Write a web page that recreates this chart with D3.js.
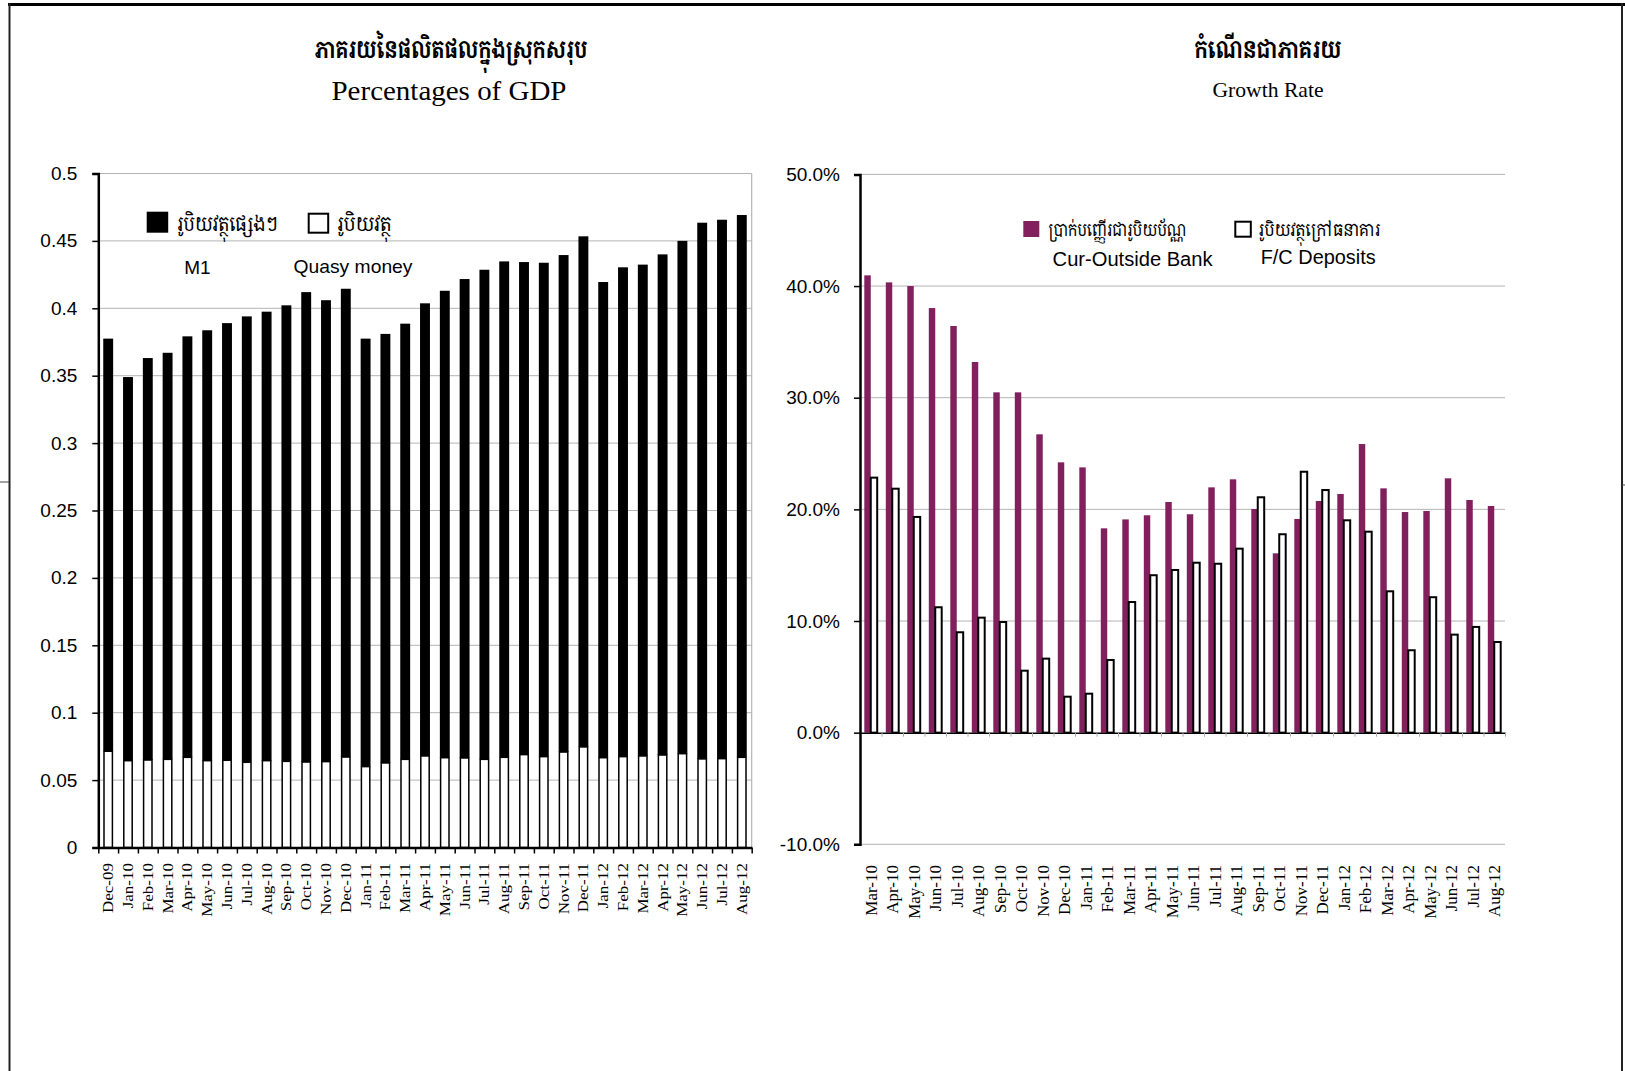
<!DOCTYPE html>
<html><head><meta charset="utf-8">
<script src="https://cdn.jsdelivr.net/npm/d3@7"></script>
<style>body{margin:0;background:#fff}svg{display:block}</style>
</head><body>
<svg id="c" width="1625" height="1071"></svg>
<script>
// ---------- DATA ----------
const leftCategories = ["Dec-09","Jan-10","Feb-10","Mar-10","Apr-10","May-10","Jun-10","Jul-10","Aug-10","Sep-10","Oct-10","Nov-10","Dec-10",
  "Jan-11","Feb-11","Mar-11","Apr-11","May-11","Jun-11","Jul-11","Aug-11","Sep-11","Oct-11","Nov-11","Dec-11",
  "Jan-12","Feb-12","Mar-12","Apr-12","May-12","Jun-12","Jul-12","Aug-12"];
// white (bottom) segment: money
const moneyM1 = [0.0714,0.0644,0.0649,0.0654,0.0669,0.0644,0.0647,0.0632,0.0644,0.0639,0.0634,0.0637,0.0671,
  0.0600,0.0627,0.0654,0.0679,0.0666,0.0664,0.0654,0.0669,0.0689,0.0674,0.0708,0.0746,
  0.0666,0.0674,0.0679,0.0686,0.0696,0.0657,0.0659,0.0669];
// black (top) segment: other money
const quasiMoney = [0.3061,0.2846,0.2982,0.3016,0.3123,0.3193,0.3243,0.3308,0.3331,0.3383,0.3486,0.3423,0.3474,
  0.3175,0.3183,0.3232,0.3358,0.3464,0.3553,0.3632,0.3679,0.3654,0.3664,0.3687,0.3788,
  0.3529,0.3630,0.3645,0.3714,0.3804,0.3978,0.3998,0.4023];
const leftTickValues = [0,0.05,0.1,0.15,0.2,0.25,0.3,0.35,0.4,0.45,0.5];
const leftTickLabels = ["0","0.05","0.1","0.15","0.2","0.25","0.3","0.35","0.4","0.45","0.5"];

const rightCategories = ["Mar-10","Apr-10","May-10","Jun-10","Jul-10","Aug-10","Sep-10","Oct-10","Nov-10","Dec-10",
  "Jan-11","Feb-11","Mar-11","Apr-11","May-11","Jun-11","Jul-11","Aug-11","Sep-11","Oct-11","Nov-11","Dec-11",
  "Jan-12","Feb-12","Mar-12","Apr-12","May-12","Jun-12","Jul-12","Aug-12"];
const curOutsideBank = [0.4096,0.4033,0.4000,0.3803,0.3642,0.3320,0.3048,0.3048,0.2672,0.2421,
  0.2376,0.1830,0.1910,0.1947,0.2066,0.1956,0.2197,0.2269,0.2003,0.1606,0.1914,0.2075,
  0.2138,0.2585,0.2188,0.1976,0.1985,0.2278,0.2084,0.2030];
const fcDeposits = [0.2284,0.2185,0.1932,0.1123,0.0899,0.1030,0.0991,0.0555,0.0663,0.0322,
  0.0349,0.0651,0.1170,0.1410,0.1457,0.1522,0.1513,0.1648,0.2108,0.1777,0.2337,0.2173,
  0.1902,0.1800,0.1266,0.0738,0.1213,0.0878,0.0947,0.0812];
const rightTickValues = [-0.1,0,0.1,0.2,0.3,0.4,0.5];
const rightTickLabels = ["-10.0%","0.0%","10.0%","20.0%","30.0%","40.0%","50.0%"];

const leftTitleKh = "ភាគរយនៃផលិតផលក្នុងស្រុកសរុប";
const leftTitleEn = "Percentages of GDP";
const rightTitleKh = "កំណើនជាភាគរយ";
const rightTitleEn = "Growth Rate";
const leftLegendKh = ["រូបិយវត្ថុផ្សេងៗ","រូបិយវត្ថុ"];
const leftLegendEn = ["M1","Quasy money"];
const rightLegendKh = ["ប្រាក់បញ្ញើរជារូបិយប័ណ្ណ","រូបិយវត្ថុក្រៅធនាគារ"];
const rightLegendEn = ["Cur-Outside Bank","F/C Deposits"];

// ---------- STYLE ----------
const SANS = '"Liberation Sans", Arial, sans-serif';
const SERIF = '"Liberation Serif", "Times New Roman", serif';
const KH = '"Khmer OS Muol Light","Khmer OS","Noto Serif Khmer","Noto Sans Khmer","Khmer OS System",serif';
const MAGENTA = "#82205E";
const GRID = "#b4b4b4";

const svg = d3.select("#c");

function text(x, y, s, o) {
  const t = svg.append("text").attr("x", x).attr("y", y).text(s)
    .attr("font-family", o.family).attr("font-size", o.size)
    .attr("text-anchor", o.anchor || "start").attr("fill", "#000");
  if (o.weight) t.attr("font-weight", o.weight);
  if (o.len) t.attr("textLength", o.len).attr("lengthAdjust", "spacingAndGlyphs");
  return t;
}

// ---------- FRAME ----------
svg.append("line").attr("x1", 8).attr("x2", 1625).attr("y1", 4.5).attr("y2", 4.5).attr("stroke", "#000").attr("stroke-width", 3);
svg.append("line").attr("x1", 9.5).attr("x2", 9.5).attr("y1", 3).attr("y2", 1071).attr("stroke", "#222").attr("stroke-width", 2);
svg.append("line").attr("x1", 1622).attr("x2", 1622).attr("y1", 3).attr("y2", 1071).attr("stroke", "#222").attr("stroke-width", 2);
svg.append("line").attr("x1", 0).attr("x2", 9).attr("y1", 482).attr("y2", 482).attr("stroke", "#444").attr("stroke-width", 1);
svg.append("line").attr("x1", 1622).attr("x2", 1625).attr("y1", 485).attr("y2", 485).attr("stroke", "#444").attr("stroke-width", 1);

// ---------- LEFT CHART ----------
const L = {x0: 98.3, x1: 751.7, yTop: 173.5, yBot: 847.5};
const lx = d3.scaleBand().domain(leftCategories).range([L.x0, L.x1]).paddingInner(0.5).paddingOuter(0.25);
const ly = d3.scaleLinear().domain([0, 0.5]).range([L.yBot, L.yTop]);
const lEdge = d3.scaleLinear().domain([0, leftCategories.length]).range([L.x0, L.x1]);

// gridlines
svg.append("g").selectAll("line").data(leftTickValues.filter(v => v > 0)).join("line")
  .attr("x1", L.x0).attr("x2", L.x1).attr("y1", d => ly(d)).attr("y2", d => ly(d))
  .attr("stroke", GRID).attr("stroke-width", 1);
svg.append("line").attr("x1", L.x1).attr("x2", L.x1).attr("y1", L.yTop).attr("y2", L.yBot)
  .attr("stroke", GRID).attr("stroke-width", 1.2);

// stacked bars
const leftRows = leftCategories.map((c, i) => ({cat: c, money: moneyM1[i], quasi: quasiMoney[i]}));
const stack = d3.stack().keys(["money", "quasi"])(leftRows);
svg.append("g").selectAll("rect").data(stack[1]).join("rect")
  .attr("x", d => lx(d.data.cat)).attr("width", lx.bandwidth())
  .attr("y", d => ly(d[1])).attr("height", d => ly(d[0]) - ly(d[1]))
  .attr("fill", "#000");
svg.append("g").selectAll("rect").data(stack[0]).join("rect")
  .attr("x", d => lx(d.data.cat) + 0.75).attr("width", lx.bandwidth() - 1.5)
  .attr("y", d => ly(d[1])).attr("height", d => ly(d[0]) - ly(d[1]))
  .attr("fill", "#fff").attr("stroke", "#000").attr("stroke-width", 1.5);

// axes
const lyAxis = svg.append("g").attr("transform", `translate(${L.x0},0)`)
  .call(d3.axisLeft(ly).tickValues(leftTickValues).tickFormat((d, i) => leftTickLabels[i]).tickSize(6).tickPadding(15));
lyAxis.select(".domain").attr("stroke-width", 2.5);
lyAxis.selectAll(".tick line").attr("stroke-width", 1.5);
lyAxis.selectAll("text").attr("font-family", SANS).attr("font-size", 19).attr("fill", "#000");

const lxAxis = svg.append("g").attr("transform", `translate(0,${L.yBot})`)
  .call(d3.axisBottom(lEdge).tickValues(d3.range(leftCategories.length + 1)).tickFormat("").tickSize(6).tickSizeOuter(0));
lxAxis.select(".domain").attr("stroke-width", 2.5);
lxAxis.selectAll(".tick line").attr("stroke-width", 1.5);

svg.append("g").selectAll("text").data(leftCategories).join("text")
  .attr("transform", d => `translate(${lx(d) + lx.bandwidth() / 2 + 5},863) rotate(-90) scale(1,0.85)`)
  .attr("text-anchor", "end").attr("font-family", SERIF).attr("font-size", 17).text(d => d);

// titles
text(451, 58, leftTitleKh, {family: KH, size: 24, anchor: "middle", weight: "bold", len: 273});
text(449, 100, leftTitleEn, {family: SERIF, size: 28, anchor: "middle", len: 235});

// legend
svg.append("rect").attr("x", 146.7).attr("y", 211.7).attr("width", 21.5).attr("height", 21).attr("fill", "#000");
text(176.7, 231, leftLegendKh[0], {family: KH, size: 20, len: 101.6});
svg.append("rect").attr("x", 308.7).attr("y", 213.7).attr("width", 19.5).attr("height", 19).attr("fill", "#fff").attr("stroke", "#000").attr("stroke-width", 2);
text(336.7, 231, leftLegendKh[1], {family: KH, size: 20, len: 55});
text(197.5, 274, leftLegendEn[0], {family: SANS, size: 19, anchor: "middle"});
text(353, 273, leftLegendEn[1], {family: SANS, size: 19, anchor: "middle", len: 119});

// ---------- RIGHT CHART ----------
const R = {x0: 860, x1: 1505};
const rx = d3.scaleBand().domain(rightCategories).range([R.x0, R.x1]).paddingInner(0.4).paddingOuter(0.2);
const rxi = d3.scaleBand().domain(["cur", "fc"]).range([0, rx.bandwidth()]);
const ry = d3.scaleLinear().domain([-0.1, 0.5]).range([844.3, 174.4]);
const rEdge = d3.scaleLinear().domain([0, rightCategories.length]).range([R.x0, R.x1]);

svg.append("g").selectAll("line").data(rightTickValues.filter(v => v !== 0)).join("line")
  .attr("x1", R.x0).attr("x2", R.x1).attr("y1", d => ry(d)).attr("y2", d => ry(d))
  .attr("stroke", GRID).attr("stroke-width", 1);

svg.append("g").selectAll("rect").data(curOutsideBank).join("rect")
  .attr("x", (d, i) => rx(rightCategories[i]) + rxi("cur")).attr("width", rxi.bandwidth())
  .attr("y", d => ry(Math.max(0, d))).attr("height", d => Math.abs(ry(d) - ry(0)))
  .attr("fill", MAGENTA);
svg.append("g").selectAll("rect").data(fcDeposits).join("rect")
  .attr("x", (d, i) => rx(rightCategories[i]) + rxi("fc")).attr("width", rxi.bandwidth())
  .attr("y", d => ry(Math.max(0, d))).attr("height", d => Math.abs(ry(d) - ry(0)))
  .attr("fill", "#fff").attr("stroke", "#000").attr("stroke-width", 2);

const rxAxis = svg.append("g").attr("transform", `translate(0,${ry(0)})`)
  .call(d3.axisBottom(rEdge).tickValues(d3.range(rightCategories.length + 1)).tickFormat("").tickSize(4).tickSizeOuter(0));
rxAxis.select(".domain").attr("stroke-width", 1.5);
rxAxis.selectAll(".tick line").attr("stroke", "#aaa").attr("stroke-width", 1);

const ryAxis = svg.append("g").attr("transform", `translate(${R.x0},0)`)
  .call(d3.axisLeft(ry).tickValues(rightTickValues).tickFormat((d, i) => rightTickLabels[i]).tickSize(6).tickPadding(14));
ryAxis.select(".domain").attr("stroke-width", 2.5);
ryAxis.selectAll(".tick line").attr("stroke-width", 1.5);
ryAxis.selectAll("text").attr("font-family", SANS).attr("font-size", 19).attr("fill", "#000");

svg.append("g").selectAll("text").data(rightCategories).join("text")
  .attr("transform", d => `translate(${rx(d) + rx.bandwidth() / 2 + 6},865) rotate(-90)`)
  .attr("text-anchor", "end").attr("font-family", SERIF).attr("font-size", 17).text(d => d);

text(1268, 58, rightTitleKh, {family: KH, size: 24, anchor: "middle", weight: "bold", len: 147});
text(1268, 97, rightTitleEn, {family: SERIF, size: 21, anchor: "middle", len: 111});

svg.append("rect").attr("x", 1023.3).attr("y", 221).attr("width", 16).attr("height", 16).attr("fill", MAGENTA);
text(1048.3, 236, rightLegendKh[0], {family: KH, size: 18, len: 138});
text(1052.6, 266, rightLegendEn[0], {family: SANS, size: 20, len: 160});
svg.append("rect").attr("x", 1235.3).attr("y", 221.7).attr("width", 15.5).attr("height", 15).attr("fill", "#fff").attr("stroke", "#000").attr("stroke-width", 2);
text(1258.3, 236, rightLegendKh[1], {family: KH, size: 18, len: 122});
text(1260.7, 264, rightLegendEn[1], {family: SANS, size: 20, len: 115});
</script>
</body></html>
